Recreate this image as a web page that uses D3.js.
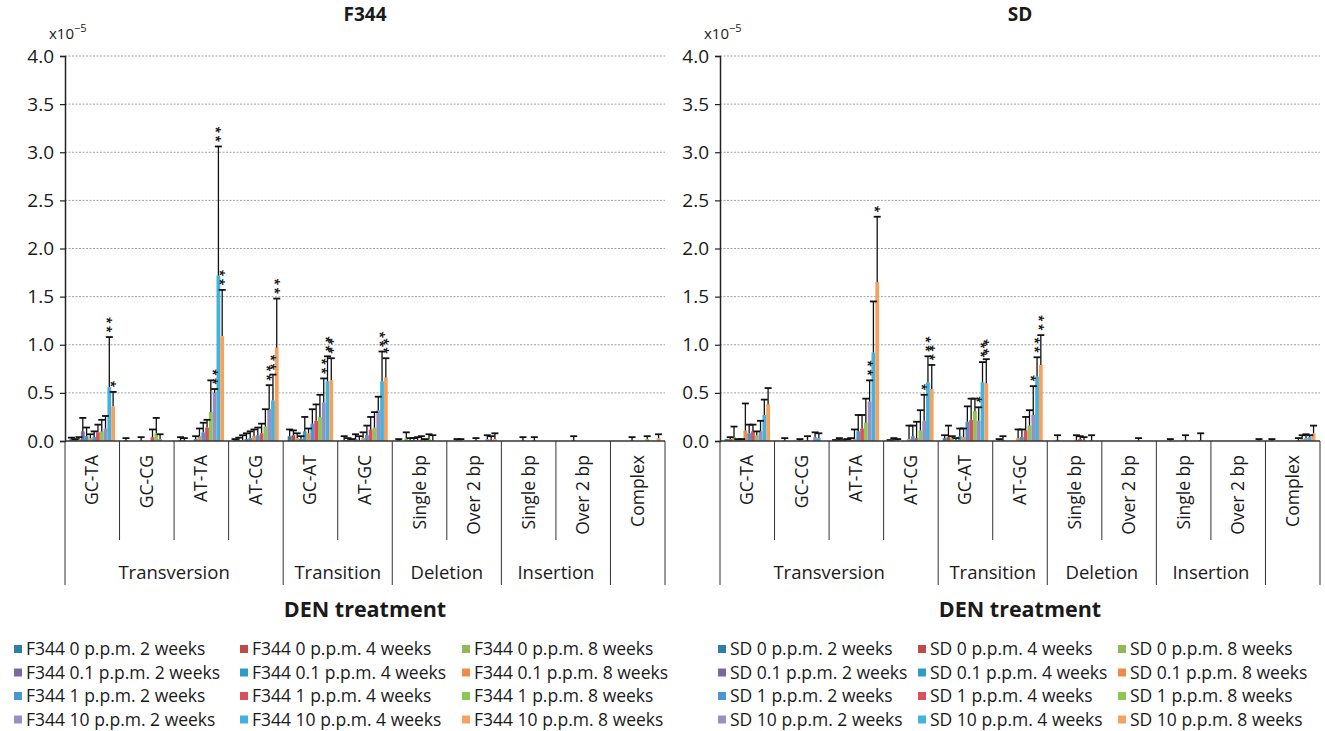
<!DOCTYPE html>
<html><head><meta charset="utf-8">
<script src="https://cdn.jsdelivr.net/npm/d3@7"></script>
<style>
body{margin:0;background:#fff;}
text{font-family:"Open Sans","DejaVu Sans",sans-serif;fill:#1a1a1a;}
</style></head>
<body><svg id="c" width="1325" height="731"></svg>
<script>
const categories = ["GC-TA","GC-CG","AT-TA","AT-CG","GC-AT","AT-GC","Single bp","Over 2 bp","Single bp","Over 2 bp","Complex"];
const groups = [{name:"Transversion",from:0,to:4},{name:"Transition",from:4,to:6},{name:"Deletion",from:6,to:8},{name:"Insertion",from:8,to:10},{name:"",from:10,to:11}];
const seriesLabels = ["0 p.p.m. 2 weeks","0 p.p.m. 4 weeks","0 p.p.m. 8 weeks","0.1 p.p.m. 2 weeks","0.1 p.p.m. 4 weeks","0.1 p.p.m. 8 weeks","1 p.p.m. 2 weeks","1 p.p.m. 4 weeks","1 p.p.m. 8 weeks","10 p.p.m. 2 weeks","10 p.p.m. 4 weeks","10 p.p.m. 8 weeks"];
const seriesColors = ["#2f7ea6","#be4b48","#94b858","#7f66a3","#2f9cc4","#ef8c45","#4a96d2","#dc4f5c","#8cc653","#9a8fc2","#43b2de","#f6a15e"];
const yTicks = [0,0.5,1,1.5,2,2.5,3,3.5,4];

// F344 values (x10^-5): one row per category, 12 series
const f344Mean = [
 [0.02,0.01,0.02,0.10,0.05,0.03,0.04,0.09,0.10,0.13,0.56,0.36],
 [0.01,0,0,0,0.01,0,0,0.04,0.08,0.02,0,0],
 [0.01,0.01,0,0,0.02,0.05,0.09,0.14,0.30,0.50,1.72,1.09],
 [0.01,0.01,0.01,0.02,0.03,0.05,0.06,0.08,0.15,0.33,0.42,0.97],
 [0.05,0.06,0.03,0.02,0.10,0.08,0.18,0.21,0.25,0.40,0.62,0.63],
 [0.01,0.01,0.01,0.02,0.01,0.03,0.06,0.12,0.14,0.32,0.62,0.66],
 [0.01,0,0.03,0.01,0.01,0.01,0.01,0,0.02,0.01,0,0],
 [0,0.005,0.005,0,0,0,0.01,0,0,0.02,0.01,0.02],
 [0,0,0,0,0.01,0,0,0.01,0,0,0,0],
 [0,0,0,0.01,0,0,0,0,0,0,0,0],
 [0,0,0,0,0.01,0,0,0,0.02,0,0,0.03]
];
const f344ErrTop = [
 [0.035,0.02,0.04,0.24,0.14,0.07,0.10,0.17,0.22,0.26,1.08,0.51],
 [0.03,0,0,0,0.04,0,0,0.12,0.24,0.07,0,0],
 [0.04,0.03,0,0,0.05,0.13,0.19,0.22,0.63,0.54,3.06,1.57],
 [0.02,0.035,0.06,0.08,0.10,0.12,0.14,0.18,0.33,0.58,0.69,1.48],
 [0.12,0.11,0.08,0.05,0.25,0.13,0.33,0.38,0.48,0.65,0.88,0.86],
 [0.05,0.03,0.02,0.07,0.05,0.09,0.16,0.25,0.30,0.46,0.93,0.86],
 [0.02,0,0.09,0.03,0.03,0.04,0.05,0.02,0.07,0.06,0,0],
 [0,0.02,0.02,0,0,0,0.03,0,0,0.06,0.05,0.08],
 [0,0,0,0,0.04,0,0,0.04,0,0,0,0],
 [0,0,0,0.05,0,0,0,0,0,0,0,0],
 [0,0,0,0,0.04,0,0,0,0.05,0,0,0.07]
];
const sdMean = [
 [0.02,0.02,0.04,0.01,0.01,0.11,0.08,0.10,0.06,0.10,0.27,0.38],
 [0,0.005,0,0,0,0.005,0,0.01,0,0.04,0.03,0],
 [0.005,0.01,0.005,0.01,0.01,0.02,0.10,0.13,0.19,0.41,0.92,1.65],
 [0.005,0.01,0.005,0,0,0.02,0.05,0.03,0.11,0.21,0.61,0.54],
 [0.03,0.04,0.03,0.01,0.05,0.04,0.20,0.22,0.31,0.21,0.61,0.60],
 [0.005,0.01,0,0,0,0.03,0.04,0.11,0.16,0.27,0.67,0.79],
 [0,0.01,0,0,0,0,0.01,0.02,0.01,0,0.01,0],
 [0,0,0,0,0,0,0,0,0.005,0,0,0],
 [0,0,0.005,0,0,0,0.01,0,0,0,0.01,0],
 [0,0,0,0,0,0,0,0,0,0,0,0.005],
 [0.005,0,0,0,0,0,0,0.01,0.02,0.03,0.04,0.08]
];
const sdErrTop = [
 [0.02,0.04,0.15,0.02,0.02,0.39,0.17,0.17,0.10,0.21,0.43,0.55],
 [0,0.03,0,0,0,0.02,0,0.05,0,0.09,0.08,0],
 [0.01,0.03,0.01,0.02,0.03,0.12,0.27,0.27,0.44,0.63,1.45,2.33],
 [0.01,0.03,0.02,0,0,0.16,0.16,0.20,0.32,0.48,0.88,0.79],
 [0.06,0.16,0.05,0.03,0.13,0.13,0.36,0.44,0.44,0.35,0.82,0.85],
 [0.02,0.05,0,0,0,0.12,0.12,0.25,0.32,0.57,0.87,1.10],
 [0,0.06,0,0,0,0,0.06,0.05,0.04,0,0.06,0],
 [0,0,0,0,0,0,0,0,0.03,0,0,0],
 [0,0,0.02,0,0,0,0.06,0,0,0,0.08,0],
 [0,0,0,0,0,0,0,0,0,0,0,0.02],
 [0.02,0,0,0,0,0,0,0.03,0.06,0.07,0.06,0.16]
];
// significance marks: [category, series, number of stars]
const f344Stars = [[0,10,2],[0,11,1],[2,9,2],[2,10,2],[2,11,2],[3,9,2],[3,10,2],[3,11,2],[4,9,2],[4,10,2],[4,11,2],[5,10,2],[5,11,2]];
const sdStars = [[2,9,2],[2,11,1],[3,9,1],[3,10,2],[3,11,2],[4,9,1],[4,10,2],[4,11,2],[5,9,1],[5,10,2],[5,11,2]];

const svg = d3.select("#c");

function drawChart(opt){
  const g = svg.append("g");
  const x = d3.scaleBand().domain(d3.range(categories.length)).range([opt.x0, opt.x1]);
  const xs = d3.scaleBand().domain(d3.range(12)).range([0, x.bandwidth()]).paddingOuter(1.2);
  const y = d3.scaleLinear().domain([0,4]).range([441,56]);

  // gridlines
  g.append("g").selectAll("line").data(yTicks.slice(1)).join("line")
    .attr("x1",opt.x0).attr("x2",opt.x1).attr("y1",d=>y(d)).attr("y2",d=>y(d))
    .attr("stroke","#9aa3a8").attr("stroke-width",1).attr("stroke-dasharray","2,1.5");

  // y axis
  const ya = g.append("g").attr("transform",`translate(${opt.x0},0)`)
    .call(d3.axisLeft(y).tickValues(yTicks).tickFormat(d3.format(".1f")).tickSize(5).tickPadding(6));
  ya.select(".domain").attr("stroke","#222").attr("stroke-width",1.5);
  ya.selectAll(".tick line").attr("stroke","#222").attr("stroke-width",1.2);
  ya.selectAll("text").style("font-size","19px").attr("fill","#1a1a1a");

  // multiplier label
  const m = g.append("text").attr("x",opt.x0-16).attr("y",39).style("font-size","15px");
  m.append("tspan").text("x10");
  m.append("tspan").attr("dy",-7).style("font-size","11px").text("\u22125");

  // title
  g.append("text").attr("x",(opt.x0+opt.x1)/2).attr("y",21).attr("text-anchor","middle")
    .style("font-size","19px").style("font-weight","bold").text(opt.title);

  // bars
  const flat = [];
  opt.mean.forEach((row,ci)=>row.forEach((v,si)=>flat.push({ci,si,v,top:opt.err[ci][si]})));
  g.append("g").selectAll("rect").data(flat.filter(d=>d.v>0)).join("rect")
    .attr("x",d=>x(d.ci)+xs(d.si)).attr("width",xs.bandwidth())
    .attr("y",d=>y(d.v)).attr("height",d=>y(0)-y(d.v))
    .attr("fill",d=>seriesColors[d.si]);

  // error bars
  const eb = g.append("g").attr("stroke","#111").attr("stroke-width",1.3);
  flat.filter(d=>d.top>d.v).forEach(d=>{
    const cx = x(d.ci)+xs(d.si)+xs.bandwidth()/2;
    eb.append("line").attr("x1",cx).attr("x2",cx).attr("y1",y(d.v)).attr("y2",y(d.top));
    eb.append("line").attr("x1",cx-3.5).attr("x2",cx+3.5).attr("y1",y(d.top)).attr("y2",y(d.top)).attr("stroke-width",1.8);
  });

  // stars: one text per mark, turned so the asterisks stack vertically
  opt.stars.forEach(([ci,si,n])=>{
    const cx = x(ci)+xs(si)+xs.bandwidth()/2;
    const base = y(opt.err[ci][si]);
    g.append("text")
      .attr("transform",`translate(${cx-7},${base-2}) rotate(90)`)
      .attr("text-anchor","end").style("letter-spacing","2.5px")
      .style("font-size","12px").style("font-weight","bold")
      .text("*".repeat(n));
  });

  // x axis line
  g.append("line").attr("x1",opt.x0).attr("x2",opt.x1).attr("y1",y(0)).attr("y2",y(0))
    .attr("stroke","#333").attr("stroke-width",1.5);

  // category separators
  const longIdx = new Set(groups.flatMap(gr=>[gr.from,gr.to]));
  g.append("g").selectAll("line").data(d3.range(categories.length+1)).join("line")
    .attr("x1",i=>opt.x0+i*x.step()).attr("x2",i=>opt.x0+i*x.step())
    .attr("y1",y(0)).attr("y2",i=>longIdx.has(i)?585:540)
    .attr("stroke","#333").attr("stroke-width",1);

  // category labels
  g.append("g").selectAll("text").data(categories).join("text")
    .attr("transform",(d,i)=>`translate(${x(i)+x.bandwidth()/2+6},455) rotate(-90)`)
    .attr("text-anchor","end").style("font-size","17.5px").text(d=>d);

  // group labels
  g.append("g").selectAll("text").data(groups).join("text")
    .attr("x",d=>opt.x0+(d.from+d.to)/2*x.step()).attr("y",579).attr("text-anchor","middle")
    .style("font-size","18.5px").text(d=>d.name);

  // axis title
  g.append("text").attr("x",(opt.x0+opt.x1)/2).attr("y",617).attr("text-anchor","middle")
    .style("font-size","21.5px").style("font-weight","bold").text("DEN treatment");

  // legend
  const lg = g.append("g");
  seriesLabels.forEach((lab,i)=>{
    const col = i%3, row = Math.floor(i/3);
    const lx = opt.legX[col], ly = 649 + row*23.5;
    lg.append("rect").attr("x",lx).attr("y",ly-4).attr("width",8).attr("height",8).attr("fill",seriesColors[i]);
    lg.append("text").attr("x",lx+12).attr("y",ly+6).style("font-size",opt.legFont).text(opt.strain+" "+lab);
  });
}

drawChart({x0:65,x1:665,title:"F344",strain:"F344",mean:f344Mean,err:f344ErrTop,stars:f344Stars,legX:[14,240,462],legFont:"17.5px"});
drawChart({x0:720,x1:1320,title:"SD",strain:"SD",mean:sdMean,err:sdErrTop,stars:sdStars,legX:[718,918,1118],legFont:"17.5px"});
</script></body></html>
